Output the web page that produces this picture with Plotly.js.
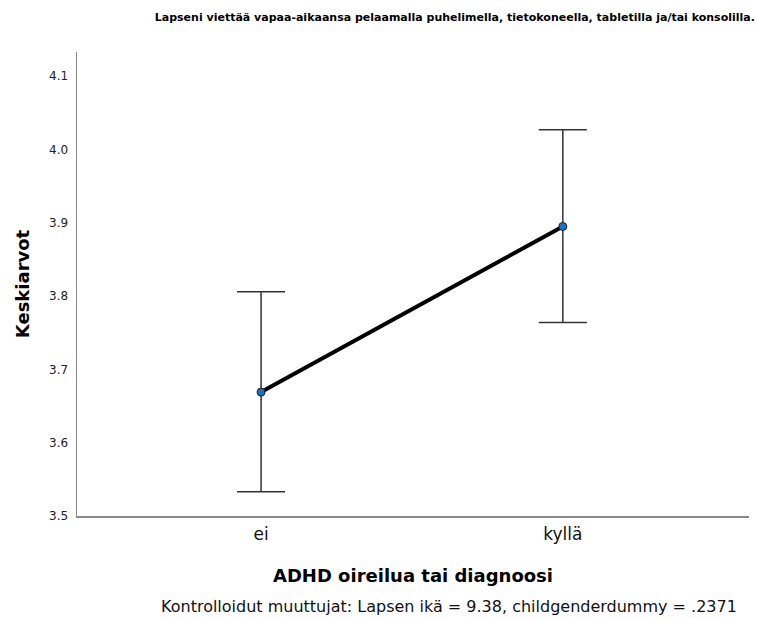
<!DOCTYPE html>
<html>
<head>
<meta charset="utf-8">
<script src="https://cdn.plot.ly/plotly-3.0.1.min.js"></script>
<style>html,body{margin:0;padding:0;background:#fff;}#chart{width:761px;height:620px;}</style>
</head>
<body>
<div id="chart"></div>
<script>
const categories = ["ei", "kyllä"];
const means = [3.669, 3.895];
const upper = [3.806, 4.027];
const lower = [3.533, 3.764];
const yTicks = [3.5, 3.6, 3.7, 3.8, 3.9, 4.0, 4.1];
const yTickLabels = ["3.5", "3.6", "3.7", "3.8", "3.9", "4.0", "4.1"];

const xIdx = categories.map((c, i) => i);
const errPlus = upper.map((u, i) => u - means[i]);
const errMinus = means.map((m, i) => m - lower[i]);

const font = "DejaVu Sans, Arial, sans-serif";

const traces = [
  {
    x: xIdx, y: means, type: "scatter", mode: "markers",
    marker: {size: 0.1, color: "rgba(0,0,0,0)"},
    error_y: {type: "data", symmetric: false, array: errPlus, arrayminus: errMinus,
      color: "#333333", thickness: 1.5, width: 24},
    hoverinfo: "skip", showlegend: false
  },
  {
    x: xIdx, y: means, type: "scatter", mode: "lines+markers",
    line: {color: "#000000", width: 4},
    marker: {size: 8, color: "#1f6fc5", line: {color: "#1a1a2e", width: 1}},
    showlegend: false
  }
];

const layout = {
  width: 761, height: 620,
  margin: {l: 77, r: 12, t: 52, b: 104},
  paper_bgcolor: "#fff", plot_bgcolor: "#fff",
  font: {family: font, color: "#000"},
  title: {text: "<b>Lapseni viettää vapaa-aikaansa pelaamalla puhelimella, tietokoneella, tabletilla ja/tai konsolilla.</b>",
    font: {size: 11, family: font, color: "#000"}, x: 0.992, xanchor: "right", xref: "container", y: 0.973, yanchor: "middle"},
  xaxis: {
    tickmode: "array", tickvals: xIdx, ticktext: categories,
    range: [-0.61, 1.617], showgrid: false, zeroline: false,
    showline: true, linecolor: "#888", linewidth: 1.5,
    ticks: "", tickfont: {size: 17, family: font, color: "#111"}, ticklabelstandoff: 2,
    title: {text: "<b>ADHD oireilua tai diagnoosi</b>", font: {size: 18, family: font, color: "#000"}, standoff: 26}
  },
  yaxis: {
    tickmode: "array", tickvals: yTicks, ticktext: yTickLabels,
    range: [3.5, 4.133], showgrid: false, zeroline: false,
    showline: true, linecolor: "#888", linewidth: 1.5,
    ticks: "", tickfont: {size: 12, family: font, color: "#222"}, ticklabelstandoff: 5,
    title: {text: "<b>Keskiarvot</b>", font: {size: 18, family: font, color: "#000"}, standoff: 14}
  },
  annotations: [{
    text: "Kontrolloidut muuttujat: Lapsen ikä = 9.38, childgenderdummy = .2371",
    xref: "paper", yref: "paper", x: 0.554, y: -0.195, xanchor: "center", yanchor: "middle",
    showarrow: false, font: {size: 16, family: font, color: "#111"}
  }]
};

Plotly.newPlot("chart", traces, layout, {displayModeBar: false, staticPlot: true});
</script>
</body>
</html>
